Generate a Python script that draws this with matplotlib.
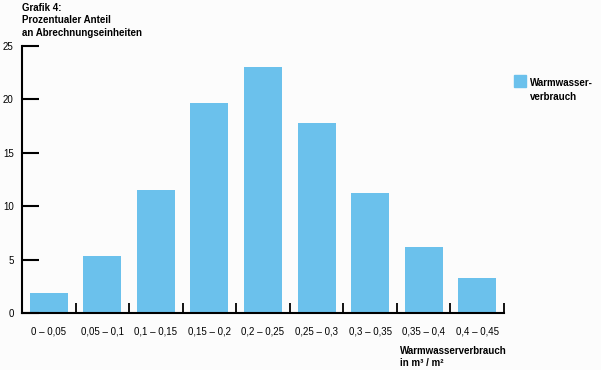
import numpy as np
import matplotlib.pyplot as plt
from matplotlib.patches import Rectangle

plt.rcParams['font.family'] = ['Liberation Sans', 'DejaVu Sans']

categories = ["0 – 0,05", "0,05 – 0,1", "0,1 – 0,15", "0,15 – 0,2", "0,2 – 0,25",
              "0,25 – 0,3", "0,3 – 0,35", "0,35 – 0,4", "0,4 – 0,45"]
anteil = [1.9, 5.3, 11.5, 19.7, 23.0, 17.8, 11.2, 6.2, 3.3]
yticks = [0, 5, 10, 15, 20, 25]

bar_color = "#6bc1ec"

fig = plt.figure(figsize=(6.01, 3.70), dpi=100)
fig.patch.set_facecolor("#fcfcfc")
ax = fig.add_axes([22/601, 1-313/370, (504-22)/601, (313-46)/370])
ax.set_facecolor("#fcfcfc")

x = np.arange(len(categories))
bars = ax.bar(x, anteil, width=0.71, color=bar_color)

ax.set_xlim(-0.5, len(categories) - 0.5)
ax.set_ylim(0, 25)
ax.set_yticks(yticks)
ax.set_xticks(x)
ax.set_xticklabels(categories)
ax.set_xticks(np.arange(len(categories)) + 0.5, minor=True)

for s in ["top", "right"]:
    ax.spines[s].set_visible(False)
for s in ["left", "bottom"]:
    ax.spines[s].set_linewidth(1.5)

ax.tick_params(axis="y", direction="in", length=12, width=1.5, pad=6, labelsize=7)
ax.tick_params(axis="x", which="major", length=0, pad=10, labelsize=7)
ax.tick_params(axis="x", which="minor", direction="in", length=7, width=1.3)

fig.text(22/601, 1-3/370, "Grafik 4:\nProzentualer Anteil\nan Abrechnungseinheiten",
         ha="left", va="top", fontsize=7, fontweight="bold", linespacing=1.3)
fig.text(400/601, 1-346/370, "Warmwasserverbrauch\nin m³ / m²",
         ha="left", va="top", fontsize=7, fontweight="bold", linespacing=1.3)

# legend
fig.patches.append(Rectangle((514/601, 1-87/370), 12/601, 12/370,
                             transform=fig.transFigure, color=bar_color))
fig.text(530/601, 1-78/370, "Warmwasser-\nverbrauch", ha="left", va="top",
         fontsize=7, fontweight="bold", linespacing=1.45)

fig.savefig("out.png", dpi=100, facecolor=fig.get_facecolor())
